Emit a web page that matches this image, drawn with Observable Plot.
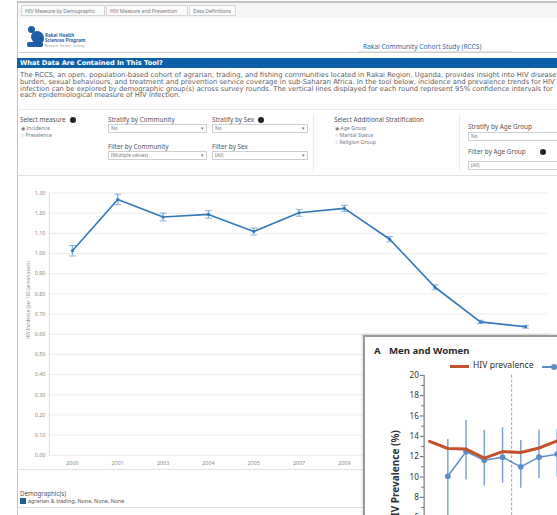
<!DOCTYPE html>
<html><head><meta charset="utf-8">
<script src="https://cdn.jsdelivr.net/npm/d3@7"></script>
<script src="https://cdn.jsdelivr.net/npm/@observablehq/plot@0.6"></script>
<style>
html,body{margin:0;padding:0;background:#fff;overflow:hidden}
#root{position:relative;width:557px;height:515px;overflow:hidden;font-family:"Noto Sans",sans-serif;color:#666}
.abs{position:absolute;white-space:nowrap}
.tab{position:absolute;top:5px;height:11px;border:1px solid #d6d6d6;background:#fafafa;font-size:5px;line-height:10px;color:#777;padding:0 3px;box-sizing:border-box;white-space:nowrap;overflow:hidden}
.lbl{font-size:6.4px;color:#555}
.sel{position:absolute;height:7px;border:1px solid #cfcfcf;background:#fff;font-size:4.8px;line-height:7px;color:#777;padding-left:2px;box-sizing:content-box;white-space:nowrap}
.sel:after{content:"▾";position:absolute;right:2px;top:0;font-size:5px}
.small{font-size:5.2px;color:#777}
.dotinfo{display:inline-block;width:6px;height:6px;border-radius:50%;background:#222;vertical-align:middle;margin-left:4px}
</style></head>
<body><div id="root">
  <div class="abs" style="left:17px;top:1px;width:540px;height:2px;background:#c4c4c4"></div>
  <div class="abs" style="left:17px;top:3px;width:1px;height:512px;background:#c4c4c4"></div>
  <div class="abs" style="left:18px;top:3px;width:539px;height:15px;background:#f6f6f6"></div>
  <div class="tab" style="left:21px;width:84px">HIV Measure by Demographic</div>
  <div class="tab" style="left:106px;width:82px">HIV Measure and Prevention</div>
  <div class="tab" style="left:189px;width:47px">Data Definitions</div>

  <!-- logo -->
  <div class="abs" style="left:28px;top:26px;width:7px;height:7px;border-radius:50%;background:#1d5fa4"></div>
  <div class="abs" style="left:31px;top:31px;width:13px;height:13px;border-radius:45% 55% 40% 60%;background:#1d5fa4"></div>
  <div class="abs" style="left:27px;top:42px;width:16px;height:5px;border-radius:2px;background:#1d5fa4"></div>
  <div class="abs" style="left:45px;top:33px;font-size:4.6px;font-weight:bold;color:#1d5fa4;line-height:5px">Rakai Health<br>Sciences Program</div>
  <div class="abs" style="left:45px;top:44px;font-size:3px;color:#999">Research · Service · Training</div>
  <div class="abs" style="left:363px;top:42px;font-size:6.6px;color:#2c6aa3">Rakai Community Cohort Study (RCCS)</div>
  <div class="abs" style="left:358px;top:51px;width:153px;height:1px;background:#e4e4e4"></div>
  <div class="abs" style="left:18px;top:52px;width:539px;height:1px;background:#d0d0d0"></div>

  <div class="abs" style="left:17px;top:58px;width:540px;height:10px;background:#0e5fa9"></div>
  <div class="abs" style="left:20px;top:58px;font-size:6.6px;line-height:10px;font-weight:bold;color:#fff;font-family:'DejaVu Sans',sans-serif">What Data Are Contained In This Tool?</div>
  <div class="abs" style="left:20px;top:72px;font-size:6.8px;line-height:6.75px;color:#5e5e5e;font-family:'DejaVu Sans',sans-serif">The RCCS, an open, population-based cohort of agrarian, trading, and fishing communities located in Rakai Region, Uganda, provides insight into HIV disease<br>burden, sexual behaviours, and treatment and prevention service coverage in sub-Saharan Africa. In the tool below, incidence and prevalence trends for HIV<br>infection can be explored by demographic group(s) across survey rounds. The vertical lines displayed for each round represent 95% confidence intervals for<br>each epidemiological measure of HIV infection.</div>
  <div class="abs" style="left:18px;top:109px;width:539px;height:1px;background:#ececec"></div>

  <!-- controls -->
  <div class="abs lbl" style="left:20px;top:115px">Select measure<span class="dotinfo"></span></div>
  <div class="abs small" style="left:21px;top:124px">◉ Incidence</div>
  <div class="abs small" style="left:21px;top:131px">○ Prevalence</div>
  <div class="abs lbl" style="left:108px;top:115px">Stratify by Community</div>
  <div class="sel" style="left:108px;top:124px;width:95px">No</div>
  <div class="abs lbl" style="left:212px;top:115px">Stratify by Sex<span class="dotinfo"></span></div>
  <div class="sel" style="left:212px;top:124px;width:92px">No</div>
  <div class="abs lbl" style="left:108px;top:142px">Filter by Community</div>
  <div class="sel" style="left:108px;top:151px;width:95px">(Multiple values)</div>
  <div class="abs lbl" style="left:212px;top:142px">Filter by Sex</div>
  <div class="sel" style="left:212px;top:151px;width:92px">(All)</div>
  <div class="abs" style="left:313px;top:114px;width:1px;height:58px;background:#ececec"></div>
  <div class="abs lbl" style="left:334px;top:115px">Select Additional Stratification</div>
  <div class="abs small" style="left:335px;top:124px">◉ Age Group</div>
  <div class="abs small" style="left:335px;top:131px">○ Marital Status</div>
  <div class="abs small" style="left:335px;top:138px">○ Religion Group</div>
  <div class="abs" style="left:459px;top:114px;width:1px;height:58px;background:#ececec"></div>
  <div class="abs lbl" style="left:468px;top:122px">Stratify by Age Group</div>
  <div class="sel" style="left:468px;top:132px;width:95px">No</div>
  <div class="abs lbl" style="left:468px;top:147px">Filter by Age Group<span class="dotinfo" style="margin-left:14px"></span></div>
  <div class="sel" style="left:468px;top:161px;width:95px">(All)</div>
  <div class="abs" style="left:18px;top:175px;width:539px;height:1px;background:#e2e2e2"></div>

  <div id="main" class="abs" style="left:17px;top:180px"></div>
  <div class="abs" style="left:18px;top:469px;width:539px;height:1px;background:#e2e2e2"></div>
  <div class="abs" style="left:20px;top:489px;font-size:6.2px;color:#555">Demographic(s)</div>
  <div class="abs" style="left:20px;top:498px;width:6px;height:6px;background:#1f5f97"></div>
  <div class="abs" style="left:28px;top:497px;font-size:5.4px;color:#555">agrarian &amp; trading, None, None, None</div>
  <div class="abs" style="left:18px;top:507px;width:539px;height:1px;background:#e2e2e2"></div>

  <!-- overlay panel -->
  <div id="panel" class="abs" style="left:363px;top:335px;width:210px;height:200px;background:#fff;border:2px solid #9a9a9a;box-shadow:-1px -1px 2px rgba(0,0,0,0.15)">
    <div id="prev" class="abs" style="left:0;top:0"></div>
    <div class="abs" style="left:9px;top:7px;font-size:9.6px;font-weight:bold;color:#2a2a2a">A</div>
    <div class="abs" style="left:24px;top:7px;font-size:9.6px;font-weight:bold;color:#2a2a2a">Men and Women</div>
    <div class="abs" style="left:85px;top:28px;width:19px;height:3px;background:#c4512c"></div>
    <div class="abs" style="left:108px;top:22px;font-size:8.6px;color:#333">HIV prevalence</div>
    <div class="abs" style="left:177px;top:29px;width:20px;height:1.5px;background:#5b8dc8"></div>
    <div class="abs" style="left:186px;top:26.5px;width:6px;height:6px;border-radius:50%;background:#5b8dc8"></div>
  </div>
</div>
<script>
// ---- main chart data (HIV incidence per 100 person-years, by survey round)
const rounds = ["2000","2001","2003","2004","2005","2007","2009","2010","2011","2013","2014"];
const incidence = [1.014,1.268,1.181,1.194,1.109,1.202,1.224,1.071,0.833,0.661,0.637];
const ciLow  = [0.988,1.242,1.162,1.175,1.092,1.185,1.209,1.058,0.821,0.653,0.630];
const ciHigh = [1.040,1.294,1.200,1.213,1.126,1.219,1.239,1.084,0.845,0.669,0.644];
const incTicks = [0,0.1,0.2,0.3,0.4,0.5,0.6,0.7,0.8,0.9,1.0,1.1,1.2,1.3];

// ---- overlay chart data (panel A, Men and Women)
const surveyIndex = [0,1,2,3,4,5,6,7];
const hivPrevalence = [13.5,12.8,12.75,11.85,12.5,12.4,12.85,13.55];
const estIndex = [1,2,3,4,5,6,7];
const estimate = [10.07,12.5,11.65,11.95,11.0,11.95,12.25];
const estLow  = [6.2,9.7,9.1,9.4,8.9,9.85,10.0];
const estHigh = [13.7,15.55,14.6,14.85,13.6,14.6,14.7];
const prevMajorTicks = [0,2,4,6,8,10,12,14,16,18,20];
const prevMinorTicks = [1,3,5,7,9,11,13,15,17,19];
const breakAt = [4.5];

const incData = rounds.map((r,i)=>({round:r, v:incidence[i], lo:ciLow[i], hi:ciHigh[i]}));
const capSymbol = {draw(ctx,size){const r=Math.sqrt(size)*0.9; ctx.moveTo(-r,0); ctx.lineTo(r,0);}};

const main = Plot.plot({
  width: 560, height: 300,
  marginLeft: 33, marginRight: 10, marginTop: 13, marginBottom: 15,
  style: {fontFamily: "Noto Sans, sans-serif", fontSize: "5.6px", color: "#8a8a8a", background: "transparent"},
  x: {type: "point", domain: rounds, padding: 0.5, label: null},
  y: {domain: [0, 1.3], label: null},
  marks: [
    Plot.gridY(incTicks, {stroke: "#ececec", strokeOpacity: 1}),
    Plot.axisY(incTicks, {tickSize: 0, tickPadding: 4, tickFormat: d => d.toFixed(2), label: null}),
    Plot.axisX({tickSize: 0, tickPadding: 6, label: null}),
    Plot.frame({anchor: "left", stroke: "#dcdcdc"}),
    Plot.text(["HIV Incidence (per 100 person years)"], {frameAnchor: "left", rotate: -90, textAnchor: "middle", dx: -22, dy: -25, fontSize: 4.7, fill: "#8a8a8a"}),
    Plot.ruleX(incData, {x: "round", y1: "lo", y2: "hi", stroke: "#82b1dc", strokeWidth: 1.4}),
    Plot.dot(incData, {x: "round", y: "lo", symbol: capSymbol, r: 2.2, stroke: "#82b1dc", strokeWidth: 1}),
    Plot.dot(incData, {x: "round", y: "hi", symbol: capSymbol, r: 2.2, stroke: "#82b1dc", strokeWidth: 1}),
    Plot.line(incData, {x: "round", y: "v", stroke: "#3179b8", strokeWidth: 1.7}),
    Plot.dot(incData, {x: "round", y: "v", r: 1.6, fill: "#3179b8"})
  ]
});
document.getElementById("main").appendChild(main);

const prevData = surveyIndex.map((x,i)=>({x, v: hivPrevalence[i]}));
const estData = estIndex.map((x,i)=>({x, v: estimate[i], lo: estLow[i], hi: estHigh[i]}));

const prev = Plot.plot({
  width: 222, height: 280,
  marginLeft: 62, marginRight: 0, marginTop: 40, marginBottom: 25,
  style: {fontFamily: "Noto Sans, sans-serif", fontSize: "8.6px", color: "#333", background: "transparent", overflow: "visible"},
  x: {domain: [-0.3, 8], axis: null},
  y: {domain: [0, 20], label: null},
  marks: [
    Plot.axisY(prevMajorTicks, {tickSize: 4, tickPadding: 1.5, label: null, stroke: "#555"}),
    Plot.axisY(prevMinorTicks, {tickSize: 2.5, tickFormat: () => "", label: null, stroke: "#555"}),
    Plot.frame({anchor: "left", stroke: "#555"}),
    Plot.text(["HIV Prevalence (%)"], {frameAnchor: "top-left", rotate: -90, textAnchor: "end", dx: -34, dy: 58, fontSize: 10.6, fontWeight: "bold", fill: "#333"}),
    Plot.ruleX(breakAt, {stroke: "#9a9a9a", strokeDasharray: "3,2", strokeWidth: 1}),
    Plot.ruleX(estData, {x: "x", y1: "lo", y2: "hi", stroke: "#7ea4d4", strokeWidth: 1.6}),
    Plot.line(estData, {x: "x", y: "v", stroke: "#5b8dc8", strokeWidth: 1.6}),
    Plot.dot(estData, {x: "x", y: "v", r: 3, fill: "#5b8dc8"}),
    Plot.line(prevData, {x: "x", y: "v", stroke: "#c4512c", strokeWidth: 3.2})
  ]
});
document.getElementById("prev").appendChild(prev);
</script>
</body></html>
